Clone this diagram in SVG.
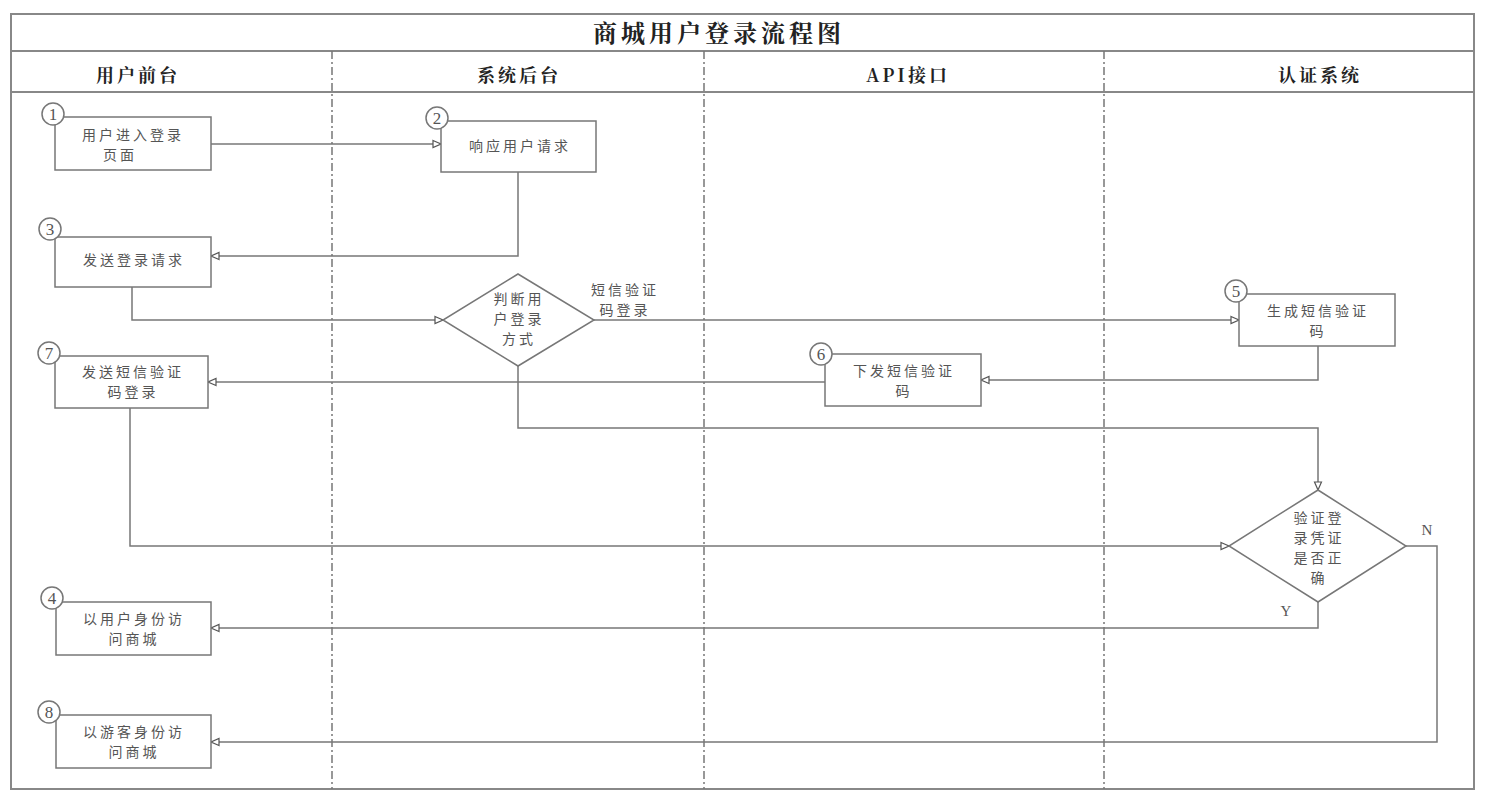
<svg xmlns="http://www.w3.org/2000/svg" width="1486" height="803" viewBox="0 0 1486 803">
<style>
.frame{fill:none;stroke:#888;stroke-width:2}
.lane{fill:none;stroke:#777;stroke-width:1.5;stroke-dasharray:8 3 2 3}
.box{fill:#fff;stroke:#777;stroke-width:1.5}
.badge{fill:#fff;stroke:#777;stroke-width:1.5}
.bt{font-family:"Liberation Serif",serif;font-size:17px;fill:#555;text-anchor:middle}
.t{font-family:"Noto Sans CJK SC",sans-serif;font-size:14px;letter-spacing:3px;fill:#555;text-anchor:middle}
.h{font-family:"Noto Serif CJK SC","Noto Sans CJK SC",serif;font-size:18px;letter-spacing:3px;font-weight:bold;fill:#222;text-anchor:middle}
.title{font-family:"Noto Serif CJK SC","Noto Sans CJK SC",serif;font-size:24px;letter-spacing:4px;font-weight:bold;fill:#222;text-anchor:middle}
.yn{font-family:"Liberation Serif",serif;font-size:15px;fill:#555;text-anchor:middle}
.c{fill:none;stroke:#777;stroke-width:1.5;marker-end:url(#ah)}
</style>
<defs>
<marker id="ah" markerWidth="10" markerHeight="10" refX="9" refY="5" orient="auto" markerUnits="userSpaceOnUse">
<path d="M1,1.5 L9,5 L1,8.5 Z" fill="#fff" stroke="#555" stroke-width="1.2"/>
</marker>
</defs>
<rect width="1486" height="803" fill="#fff"/>
<g id="frame">
<rect class="frame" x="11" y="14" width="1463" height="775"/>
<line class="frame" x1="11" y1="51" x2="1474" y2="51"/>
<line class="frame" x1="11" y1="92" x2="1474" y2="92"/>
<line class="lane" x1="332" y1="51" x2="332" y2="789"/>
<line class="lane" x1="704" y1="51" x2="704" y2="789"/>
<line class="lane" x1="1104" y1="51" x2="1104" y2="789"/>
<text class="title" x="719" y="42">商城用户登录流程图</text>
<text class="h" x="138" y="82">用户前台</text>
<text class="h" x="519" y="82">系统后台</text>
<text class="h" x="908" y="82">API接口</text>
<text class="h" x="1320" y="82">认证系统</text>
</g>
<g id="connectors">
<path class="c" d="M211,144 H441"/>
<path class="c" d="M518,172 V256 H211"/>
<path class="c" d="M132,287 V320 H443"/>
<path class="c" d="M594,320 H1239"/>
<path class="c" d="M1318,346 V380 H981"/>
<path class="c" d="M825,382 H208"/>
<path class="c" d="M518,366 V428 H1318 V490"/>
<path class="c" d="M130,408 V546 H1229"/>
<path class="c" d="M1318,602 V628 H211"/>
<path class="c" d="M1406,546 H1437 V742 H211"/>
<text class="t" x="625" y="295">短信验证</text>
<text class="t" x="625" y="315">码登录</text>
<text class="yn" x="1286" y="616">Y</text>
<text class="yn" x="1427" y="535">N</text>
</g>
<g id="n1">
<rect class="box" x="55" y="117" width="156" height="53"/>
<circle class="badge" cx="53" cy="114" r="11"/>
<text class="bt" x="53" y="120">1</text>
<text class="t" x="133" y="140">用户进入登录</text>
<text class="t" x="120" y="160">页面</text>
</g>
<g id="n2">
<rect class="box" x="441" y="121" width="155" height="51"/>
<circle class="badge" cx="437" cy="118" r="11"/>
<text class="bt" x="437" y="124">2</text>
<text class="t" x="520" y="151">响应用户请求</text>
</g>
<g id="n3">
<rect class="box" x="55" y="237" width="156" height="50"/>
<circle class="badge" cx="50" cy="229" r="11"/>
<text class="bt" x="50" y="235">3</text>
<text class="t" x="134" y="265">发送登录请求</text>
</g>
<g id="d1">
<polygon class="box" points="518,274 594,320 518,366 443,320"/>
<text class="t" x="519" y="304">判断用</text>
<text class="t" x="519" y="324">户登录</text>
<text class="t" x="519" y="344">方式</text>
</g>
<g id="n5">
<rect class="box" x="1239" y="294" width="156" height="52"/>
<circle class="badge" cx="1236" cy="291" r="11"/>
<text class="bt" x="1236" y="297">5</text>
<text class="t" x="1318" y="316">生成短信验证</text>
<text class="t" x="1318" y="336">码</text>
</g>
<g id="n6">
<rect class="box" x="825" y="354" width="156" height="52"/>
<circle class="badge" cx="821" cy="354" r="11"/>
<text class="bt" x="821" y="360">6</text>
<text class="t" x="904" y="376">下发短信验证</text>
<text class="t" x="904" y="396">码</text>
</g>
<g id="n7">
<rect class="box" x="55" y="356" width="153" height="52"/>
<circle class="badge" cx="49" cy="353" r="11"/>
<text class="bt" x="49" y="359">7</text>
<text class="t" x="133" y="377">发送短信验证</text>
<text class="t" x="133" y="397">码登录</text>
</g>
<g id="d2">
<polygon class="box" points="1318,490 1406,546 1318,602 1229,546"/>
<text class="t" x="1319" y="523">验证登</text>
<text class="t" x="1319" y="543">录凭证</text>
<text class="t" x="1319" y="563">是否正</text>
<text class="t" x="1319" y="583">确</text>
</g>
<g id="n4">
<rect class="box" x="56" y="602" width="155" height="53"/>
<circle class="badge" cx="52" cy="598" r="11"/>
<text class="bt" x="52" y="604">4</text>
<text class="t" x="134" y="624">以用户身份访</text>
<text class="t" x="134" y="644">问商城</text>
</g>
<g id="n8">
<rect class="box" x="56" y="715" width="155" height="53"/>
<circle class="badge" cx="49" cy="712" r="11"/>
<text class="bt" x="49" y="718">8</text>
<text class="t" x="134" y="737">以游客身份访</text>
<text class="t" x="134" y="757">问商城</text>
</g>
</svg>
